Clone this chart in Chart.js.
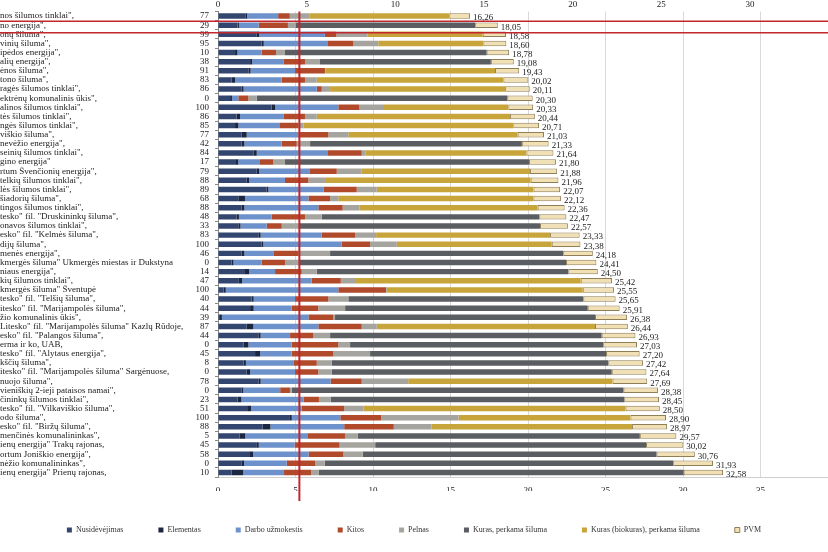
<!DOCTYPE html>
<html>
<head>
<meta charset="utf-8">
<script src="https://cdn.jsdelivr.net/npm/chart.js@4.4.1/dist/chart.umd.min.js"></script>
<style>
  body { margin: 0; background: #fff; }
  #wrap { width: 828px; height: 552px; position: relative; }
</style>
</head>
<body>
<div id="wrap"><canvas id="chart"></canvas></div>
<script>
const names = [
  'nos šilumos tinklai",', 'no energija",', 'onų šiluma",', 'vinių šiluma",', 'ipėdos energija",',
  'alių energija",', 'ėnos šiluma",', 'tono šiluma",', 'ragės šilumos tinklai",', 'ektrėnų komunalinis ūkis",',
  'alinos šilumos tinklai",', 'tės šilumos tinklai",', 'ngės šilumos tinklai",', 'viškio šiluma",', 'nevėžio energija",',
  'seinių šilumos tinklai",', 'gino energija"', 'rtum Švenčionių energija",', 'telkių šilumos tinklai",', 'lės šilumos tinklai",',
  'šiadorių šiluma",', 'tingos šilumos tinklai",', 'tesko" fil. "Druskininkų šiluma",', 'onavos šilumos tinklai",', 'esko" fil. "Kelmės šiluma",',
  'dijų šiluma",', 'menės energija",', 'kmergės šiluma" Ukmergės miestas ir Dukstyna', 'niaus energija",', 'kių šilumos tinklai",',
  'kmergės šiluma" Šventupė', 'tesko" fil. "Telšių šiluma",', 'itesko" fil. "Marijampolės šiluma",', 'žio komunalinis ūkis",', 'Litesko" fil. "Marijampolės šiluma" Kazlų Rūdoje,',
  'esko" fil. "Palangos šiluma",', 'erma ir ko, UAB,', 'tesko" fil. "Alytaus energija",', 'kščių šiluma",', 'itesko" fil. "Marijampolės šiluma" Sargėnuose,',
  'nuojo šiluma",', 'vieniškių 2-ieji pataisos namai",', 'čininkų šilumos tinklai",', 'tesko" fil. "Vilkaviškio šiluma",', 'odo šiluma",',
  'esko" fil. "Biržų šiluma",', 'menčinės komunalininkas",', 'ienų energija" Trakų rajonas,', 'ortum Joniškio energija",', 'nėžio komunalininkas",',
  'ienų energija" Prienų rajonas,'
];

const shares = [77, 29, 99, 95, 10, 38, 91, 83, 86, 0, 100, 86, 85, 77, 42, 84, 17, 79, 88, 89, 68, 88, 48, 33, 83,
  100, 46, 0, 14, 47, 100, 40, 44, 39, 87, 44, 0, 45, 8, 0, 78, 0, 23, 51, 100, 88, 5, 45, 58, 0, 10];

const totals = [16.26, 18.05, 18.58, 18.60, 18.78, 19.08, 19.43, 20.02, 20.11, 20.30,
  20.33, 20.44, 20.71, 21.03, 21.33, 21.64, 21.80, 21.88, 21.96, 22.07,
  22.12, 22.36, 22.47, 22.57, 23.33, 23.38, 24.18, 24.41, 24.50, 25.42,
  25.55, 25.65, 25.91, 26.38, 26.44, 26.93, 27.03, 27.20, 27.42, 27.64,
  27.69, 28.38, 28.45, 28.50, 28.90, 28.97, 29.57, 30.02, 30.76, 31.93, 32.58];

const nusidevejimas = [1.76, 1.26, 2.50, 2.82, 1.10, 2.07, 1.96, 0.88, 1.53, 0.78,
  3.46, 1.20, 1.10, 1.53, 1.53, 2.28, 1.16, 2.50, 1.85, 3.14,
  1.31, 1.53, 1.20, 1.31, 2.60, 2.82, 1.53, 0.88, 1.74, 1.31,
  0.35, 2.17, 2.07, 0.13, 1.85, 2.60, 1.64, 2.39, 1.64, 1.85,
  2.63, 1.51, 1.26, 1.88, 4.64, 2.88, 1.38, 2.51, 2.01, 1.51, 0.88];

const elementas = [0.12, 0.09, 0.15, 0.13, 0.15, 0.13, 0.14, 0.22, 0.12, 0.12,
  0.22, 0.22, 0.21, 0.32, 0.17, 0.22, 0.14, 0.15, 0.15, 0.11,
  0.43, 0.17, 0.15, 0.14, 0.15, 0.10, 0.17, 0.12, 0.26, 0.24,
  0.15, 0.13, 0.23, 0.12, 0.43, 0.15, 0.32, 0.32, 0.16, 0.22,
  0.12, 0.12, 0.25, 0.25, 0.12, 0.50, 0.38, 0.12, 0.25, 0.17, 0.75];

const darbo = [2.00, 1.28, 4.24, 4.10, 1.57, 2.02, 2.87, 3.01, 4.72, 0.41,
  4.08, 2.80, 2.69, 3.33, 2.41, 4.55, 1.41, 3.24, 2.32, 3.55,
  4.09, 4.77, 2.11, 1.69, 3.94, 5.06, 1.87, 1.82, 1.68, 4.49,
  7.26, 2.67, 2.45, 5.58, 4.19, 1.90, 2.79, 2.04, 3.06, 2.90,
  4.51, 2.38, 4.00, 3.26, 3.13, 4.76, 4.00, 2.31, 3.58, 2.75, 2.63];

const kitos = [0.75, 1.88, 0.75, 1.68, 0.92, 1.39, 1.93, 1.50, 0.32, 0.65,
  1.36, 1.39, 1.18, 1.94, 0.97, 2.22, 0.86, 1.77, 1.51, 2.15,
  1.40, 1.57, 2.15, 0.97, 2.15, 1.83, 1.61, 1.50, 1.72, 1.88,
  3.08, 2.15, 1.72, 1.61, 2.80, 1.50, 3.01, 2.69, 1.51, 1.50,
  2.01, 0.63, 1.00, 2.75, 2.63, 3.20, 2.43, 2.90, 2.25, 1.83, 1.75];

const pelnas = [1.26, 0.49, 2.00, 1.61, 0.58, 0.97, 0.05, 0.76, 0.54, 0.54,
  1.59, 0.76, 0.33, 1.29, 0.86, 0.26, 0.75, 1.61, 1.07, 1.29,
  0.53, 1.08, 1.08, 1.07, 1.36, 1.72, 2.05, 0.97, 0.97, 0.98,
  0.04, 1.29, 1.73, 0.11, 0.97, 1.08, 0.76, 2.37, 0.96, 0.86,
  3.00, 0.12, 0.75, 1.25, 5.00, 2.43, 0.83, 2.30, 1.25, 0.63, 0.50];

const kuras = [0, 11.60, 0, 0, 13.01, 11.02, 0, 0, 0, 16.17,
  0, 0, 0, 0, 13.66, 0, 15.74, 0, 0, 0,
  0, 0, 14.04, 15.59, 0, 0, 15.05, 17.16, 16.23, 0,
  0, 15.16, 15.65, 16.77, 0, 17.52, 16.34, 15.22, 17.85, 18.07,
  0, 21.40, 18.95, 0, 0, 0, 18.19, 17.47, 18.95, 22.48, 23.53];

const biokuras = [9.03, 0, 7.44, 6.78, 0, 0, 10.92, 12.04, 11.29, 0,
  8.02, 12.47, 13.54, 10.92, 0, 10.37, 0, 10.86, 13.27, 10.11,
  12.59, 11.50, 0, 0, 11.22, 10.00, 0, 0, 0, 14.50,
  12.65, 0, 0, 0, 14.08, 0, 0, 0, 0, 0,
  13.18, 0, 0, 16.90, 11.09, 12.94, 0, 0, 0, 0, 0];

const pvm = [1.34, 1.45, 1.50, 1.48, 1.45, 1.48, 1.56, 1.61, 1.59, 1.63,
  1.60, 1.60, 1.66, 1.70, 1.73, 1.74, 1.74, 1.75, 1.79, 1.72,
  1.77, 1.74, 1.74, 1.80, 1.91, 1.85, 1.90, 1.96, 1.90, 2.02,
  2.02, 2.08, 2.06, 2.06, 2.12, 2.18, 2.17, 2.17, 2.24, 2.24,
  2.24, 2.22, 2.24, 2.21, 2.29, 2.26, 2.36, 2.41, 2.47, 2.56, 2.54];

const bottomTicks = [0, 5, 10, 15, 20, 25, 30, 35];
const topTicks = [0, 5, 10, 15, 20, 25, 30];
const markLine = 5.25;

Chart.defaults.font.family = '"Liberation Serif", "DejaVu Serif", serif';
Chart.defaults.color = '#222';

const seg = (label, data, color, border) => ({
  label: label,
  data: data,
  backgroundColor: color,
  borderColor: border || color,
  borderWidth: border ? 1 : 0,
  borderSkipped: false,
  barPercentage: 0.6,
  categoryPercentage: 1
});

const onlyTicks = (list) => (scale) => {
  scale.ticks = list.map(v => ({ value: v }));
};

const annotations = {
  id: 'annotations',
  afterDatasetsDraw(chart) {
    const ctx = chart.ctx;
    const x = chart.scales.x;
    const y = chart.scales.y;
    ctx.save();
    ctx.font = '9px "Liberation Serif"';
    ctx.fillStyle = '#222';
    ctx.textAlign = 'left';
    ctx.textBaseline = 'middle';
    totals.forEach((t, i) => {
      ctx.fillText(t.toFixed(2).replace('.', ','), x.getPixelForValue(t) + 3, y.getPixelForValue(i) + 2);
    });
    ctx.restore();
  },
  afterDraw(chart) {
    const ctx = chart.ctx;
    const x = chart.scales.x;
    const y = chart.scales.y;
    ctx.save();
    ctx.strokeStyle = '#c1272d';
    ctx.lineWidth = 2;
    const lx = x.getPixelForValue(markLine);
    ctx.beginPath();
    ctx.moveTo(lx, chart.chartArea.top);
    ctx.lineTo(lx, 501);
    ctx.stroke();
    const ry = y.getPixelForValue(1);
    ctx.lineWidth = 1.6;
    ctx.beginPath();
    ctx.moveTo(0, ry - 4);
    ctx.lineTo(chart.width, ry - 4);
    ctx.moveTo(0, ry + 7.5);
    ctx.lineTo(chart.width, ry + 7.5);
    ctx.stroke();
    ctx.restore();
  }
};

new Chart(document.querySelector('#chart'), {
  type: 'bar',
  data: {
    labels: names,
    datasets: [
      seg('Nusidėvėjimas', nusidevejimas, '#32466f'),
      seg('Elementas', elementas, '#1c2641'),
      seg('Darbo užmokestis', darbo, '#6d92cb'),
      seg('Kitos', kitos, '#b14a2b'),
      seg('Pelnas', pelnas, '#a5a49e'),
      seg('Kuras, perkama šiluma', kuras, '#5a5d61'),
      seg('Kuras (biokuras), perkama šiluma', biokuras, '#c8a53a'),
      seg('PVM', pvm, '#f1e0b3', '#8f7f58')
    ]
  },
  options: {
    indexAxis: 'y',
    responsive: true,
    maintainAspectRatio: false,
    animation: false,
    layout: { padding: { top: 0, left: 0, right: 0, bottom: 17 } },
    scales: {
      x: {
        type: 'linear',
        stacked: true,
        position: 'bottom',
        min: 0,
        max: 39.35,
        afterBuildTicks: onlyTicks(bottomTicks),
        afterFit: s => { s.height = 14; },
        grid: { color: '#d9d9d9', drawTicks: false },
        border: { display: true, color: '#cfcfcf' },
        ticks: { font: { size: 9 }, padding: 8 }
      },
      x2: {
        type: 'linear',
        position: 'top',
        min: 0,
        max: 34.4,
        afterBuildTicks: onlyTicks(topTicks),
        afterFit: s => { s.height = 11.5; },
        grid: { display: false, drawTicks: false },
        border: { display: false },
        ticks: { font: { size: 9 }, padding: 1 }
      },
      y: {
        type: 'category',
        stacked: true,
        position: 'left',
        weight: 1,
        offset: true,
        afterFit: s => { s.width = 190; },
        grid: { display: false },
        border: { display: false },
        ticks: { autoSkip: false, crossAlign: 'far', padding: 0, font: { size: 9 } }
      },
      y2: {
        type: 'category',
        position: 'left',
        weight: 0,
        offset: true,
        labels: shares.map(String),
        afterFit: s => { s.width = 28; },
        grid: { display: true, drawOnChartArea: false, tickLength: 3, color: '#888', offset: true },
        border: { display: true, color: '#888' },
        ticks: { autoSkip: false, padding: 6, font: { size: 9 } }
      }
    },
    plugins: {
      tooltip: { enabled: false },
      legend: {
        position: 'bottom',
        maxHeight: 44,
        labels: {
          boxWidth: 5,
          boxHeight: 5,
          padding: 35,
          color: '#333',
          font: { size: 8 }
        }
      }
    }
  },
  plugins: [annotations]
});
</script>
</body>
</html>
